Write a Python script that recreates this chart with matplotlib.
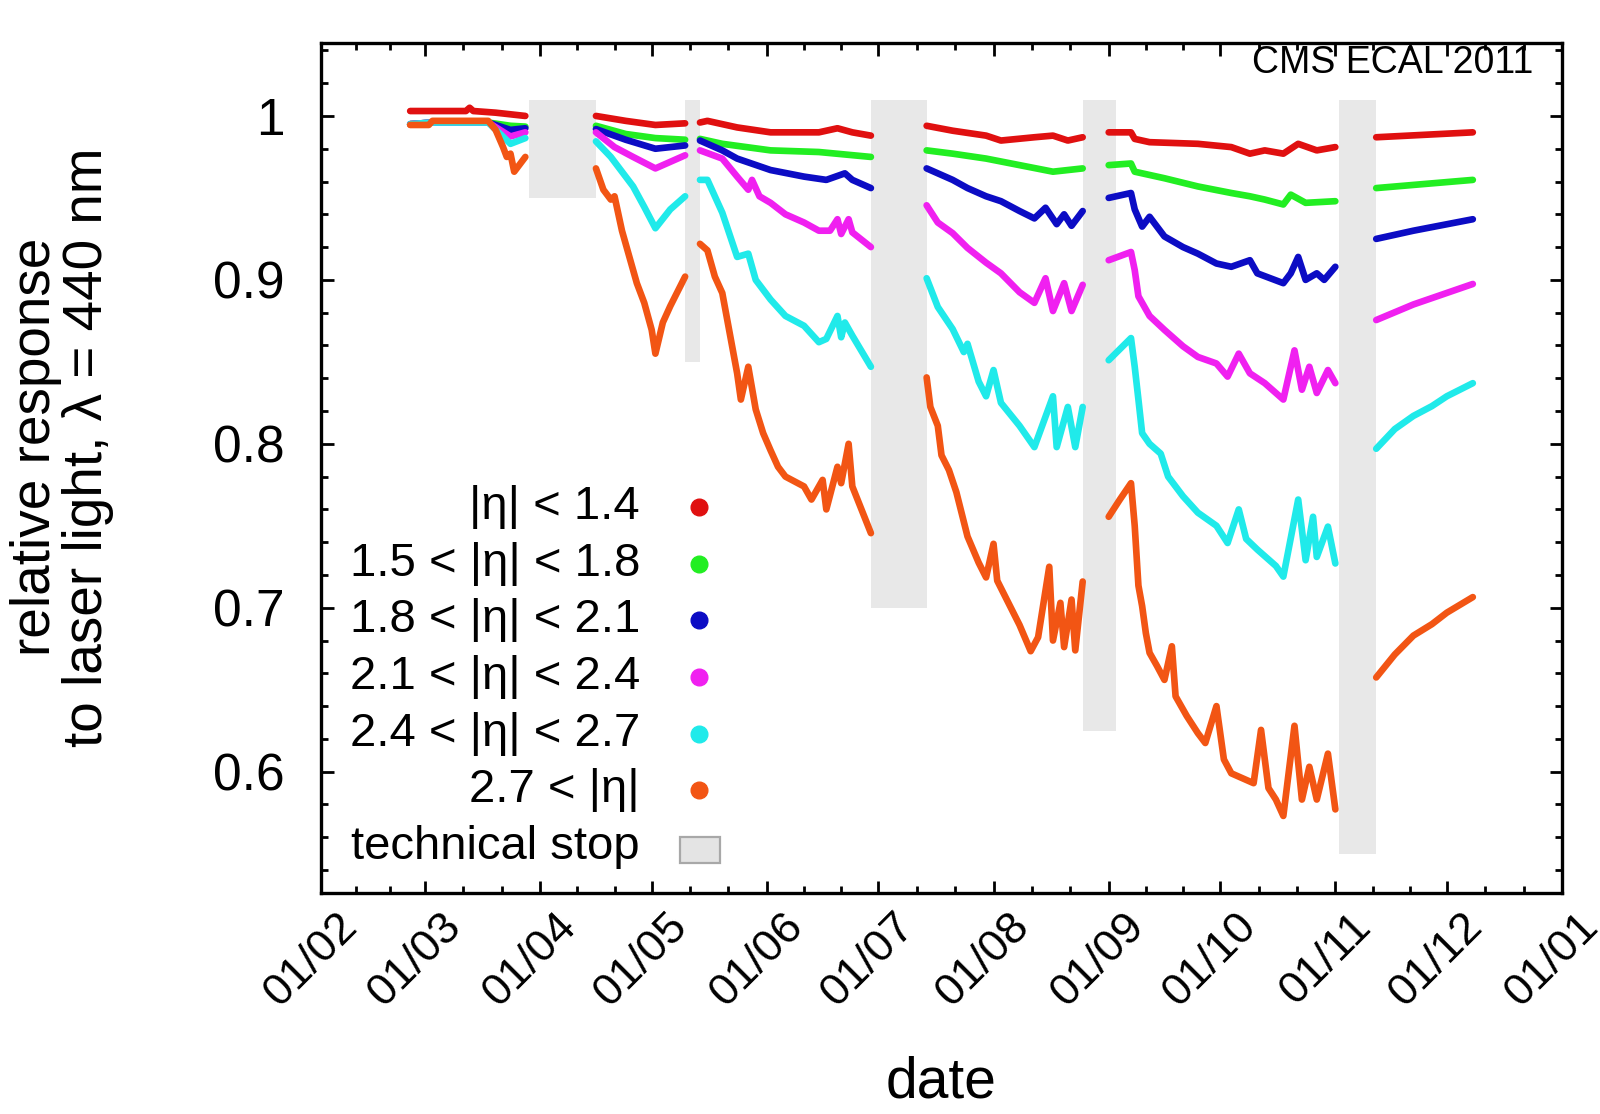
import numpy as np
import matplotlib
matplotlib.use("Agg")
import matplotlib.pyplot as plt
import matplotlib.dates as mdates
from matplotlib.patches import Rectangle
from matplotlib.ticker import FixedLocator, FuncFormatter, MultipleLocator
from matplotlib.transforms import ScaledTranslation

plt.rcParams['font.family'] = ['Liberation Sans', 'DejaVu Sans']

# ---------------- data ----------------
labels = ["|\u03b7| < 1.4", "1.5 < |\u03b7| < 1.8", "1.8 < |\u03b7| < 2.1",
          "2.1 < |\u03b7| < 2.4", "2.4 < |\u03b7| < 2.7", "2.7 < |\u03b7|"]
colors = ["#e01010", "#22ee22", "#0c0cc4", "#f020f0", "#20eaea", "#f25514"]

red_dates = ["02-25", "03-05", "03-12", "03-13", "03-14", "03-20", "03-28",
             "04-16", "04-24", "05-02", "05-10",
             "05-14", "05-16", "05-20", "05-24", "06-02", "06-15", "06-20", "06-24", "06-29",
             "07-14", "07-21", "07-30", "08-03", "08-12", "08-17", "08-21", "08-25",
             "09-01", "09-07", "09-08", "09-12", "09-25", "10-04", "10-09", "10-13", "10-18",
             "10-22", "10-27", "11-01",
             "11-12", "12-08"]
red_vals = [1.003, 1.003, 1.003, 1.005, 1.003, 1.002, 1.000,
            1.000, 0.997, 0.9945, 0.9955,
            0.996, 0.997, 0.995, 0.993, 0.990, 0.990, 0.9925, 0.990, 0.988,
            0.994, 0.991, 0.988, 0.985, 0.987, 0.988, 0.985, 0.987,
            0.990, 0.990, 0.986, 0.984, 0.983, 0.981, 0.977, 0.979, 0.977,
            0.983, 0.979, 0.981,
            0.987, 0.990]

green_dates = ["02-25", "03-03", "03-18", "03-24", "03-28",
               "04-16", "04-24", "05-02", "05-10",
               "05-14", "05-20", "06-02", "06-15", "06-29",
               "07-14", "07-21", "07-30", "08-08", "08-17", "08-21", "08-25",
               "09-01", "09-07", "09-08", "09-16", "09-25", "10-04", "10-09", "10-13",
               "10-18", "10-20", "10-24", "11-01",
               "11-12", "12-08"]
green_vals = [0.995, 0.996, 0.996, 0.994, 0.9935,
              0.994, 0.989, 0.9865, 0.9855,
              0.986, 0.983, 0.979, 0.978, 0.975,
              0.979, 0.977, 0.974, 0.970, 0.966, 0.967, 0.968,
              0.970, 0.971, 0.966, 0.962, 0.957, 0.953, 0.951, 0.949,
              0.946, 0.952, 0.947, 0.948,
              0.956, 0.961]

blue_dates = ["02-25", "03-03", "03-18", "03-24", "03-28",
              "04-16", "04-24", "05-02", "05-10",
              "05-14", "05-20", "05-24", "06-02", "06-11", "06-17", "06-22", "06-24", "06-29",
              "07-14", "07-21", "07-25", "07-30", "08-03", "08-08", "08-12", "08-15",
              "08-18", "08-20", "08-22", "08-25",
              "09-01", "09-07", "09-08", "09-10", "09-12", "09-16", "09-21", "09-25",
              "09-30", "10-04", "10-09", "10-11", "10-18", "10-20", "10-22", "10-24",
              "10-27", "10-29", "11-01",
              "11-12", "11-22", "12-08"]
blue_vals = [0.995, 0.996, 0.996, 0.9915, 0.9925,
             0.992, 0.9855, 0.980, 0.982,
             0.985, 0.979, 0.974, 0.967, 0.963, 0.961, 0.965, 0.961, 0.956,
             0.968, 0.961, 0.956, 0.951, 0.948, 0.942, 0.9375, 0.944,
             0.934, 0.940, 0.933, 0.942,
             0.950, 0.953, 0.943, 0.9325, 0.9385, 0.9265, 0.920, 0.916,
             0.910, 0.908, 0.912, 0.904, 0.898, 0.904, 0.914, 0.900,
             0.904, 0.900, 0.908,
             0.925, 0.930, 0.937]

magenta_dates = ["02-25", "03-03", "03-18", "03-24", "03-28",
                 "04-16", "04-21", "04-26", "05-02", "05-10",
                 "05-14", "05-20", "05-24", "05-27", "05-28", "05-30", "06-02", "06-06",
                 "06-11", "06-15", "06-18", "06-20", "06-21", "06-23", "06-24", "06-29",
                 "07-14", "07-17", "07-21", "07-25", "07-30", "08-03", "08-08", "08-12",
                 "08-15", "08-17", "08-20", "08-22", "08-25",
                 "09-01", "09-07", "09-08", "09-09", "09-12", "09-16", "09-21", "09-25",
                 "09-30", "10-03", "10-06", "10-09", "10-13", "10-18", "10-21", "10-23",
                 "10-25", "10-27", "10-30", "11-01",
                 "11-12", "11-22", "12-08"]
magenta_vals = [0.995, 0.996, 0.996, 0.9875, 0.990,
                0.990, 0.981, 0.975, 0.968, 0.976,
                0.979, 0.974, 0.963, 0.955, 0.961, 0.951, 0.947, 0.940,
                0.935, 0.930, 0.930, 0.937, 0.928, 0.937, 0.929, 0.920,
                0.9455, 0.935, 0.9285, 0.9195, 0.9105, 0.904, 0.8925, 0.886,
                0.901, 0.881, 0.898, 0.881, 0.897,
                0.912, 0.917, 0.906, 0.890, 0.878, 0.8695, 0.8595, 0.853,
                0.849, 0.841, 0.855, 0.843, 0.837, 0.827, 0.857, 0.833,
                0.847, 0.831, 0.845, 0.837,
                0.8755, 0.885, 0.8975]

cyan_dates = ["02-25", "03-03", "03-18", "03-24", "03-28",
              "04-16", "04-20", "04-26", "04-29", "05-02", "05-06", "05-10",
              "05-14", "05-16", "05-20", "05-24", "05-27", "05-29", "06-02", "06-06",
              "06-11", "06-15", "06-17", "06-20", "06-21", "06-22", "06-24", "06-29",
              "07-14", "07-17", "07-21", "07-24", "07-25", "07-28", "07-30", "08-01",
              "08-03", "08-08", "08-12", "08-17", "08-18", "08-21", "08-23", "08-25",
              "09-01", "09-07", "09-08", "09-09", "09-10", "09-12", "09-15", "09-17",
              "09-21", "09-25", "09-30", "10-03", "10-06", "10-08", "10-11", "10-16",
              "10-18", "10-22", "10-24", "10-26", "10-27", "10-30", "11-01",
              "11-12", "11-17", "11-22", "11-27", "12-01", "12-08"]
cyan_vals = [0.995, 0.996, 0.996, 0.983, 0.9865,
             0.9845, 0.975, 0.957, 0.9445, 0.9315, 0.943, 0.951,
             0.961, 0.961, 0.941, 0.914, 0.916, 0.900, 0.888, 0.878,
             0.872, 0.862, 0.864, 0.878, 0.865, 0.874, 0.866, 0.847,
             0.901, 0.8835, 0.870, 0.856, 0.861, 0.838, 0.829, 0.845,
             0.825, 0.811, 0.798, 0.829, 0.798, 0.8225, 0.798, 0.8225,
             0.851, 0.8645, 0.847, 0.827, 0.8065, 0.800, 0.794, 0.780,
             0.768, 0.758, 0.750, 0.7395, 0.760, 0.742, 0.7355, 0.7255,
             0.719, 0.766, 0.729, 0.7555, 0.731, 0.7495, 0.727,
             0.797, 0.809, 0.817, 0.823, 0.829, 0.837]

orange_dates = ["02-25", "03-02", "03-03", "03-18", "03-20", "03-22", "03-23", "03-24",
                "03-25", "03-28",
                "04-16", "04-18", "04-20", "04-21", "04-23", "04-25", "04-27", "04-29",
                "05-01", "05-02", "05-04", "05-06", "05-10",
                "05-14", "05-16", "05-18", "05-20", "05-22", "05-24", "05-25", "05-27",
                "05-29", "05-31", "06-02", "06-04", "06-06", "06-11", "06-13", "06-16",
                "06-17", "06-20", "06-21", "06-23", "06-24", "06-29",
                "07-14", "07-15", "07-17", "07-18", "07-20", "07-22", "07-23", "07-25",
                "07-28", "07-30", "08-01", "08-02", "08-05", "08-08", "08-11", "08-13",
                "08-16", "08-17", "08-19", "08-20", "08-22", "08-23", "08-25",
                "09-01", "09-04", "09-07", "09-08", "09-09", "09-10", "09-11", "09-12",
                "09-14", "09-16", "09-18", "09-19", "09-22", "09-25", "09-27", "09-30",
                "10-02", "10-04", "10-10", "10-12", "10-14", "10-16", "10-18", "10-21",
                "10-23", "10-25", "10-27", "10-30", "11-01",
                "11-12", "11-17", "11-22", "11-27", "12-01", "12-08"]
orange_vals = [0.9945, 0.9945, 0.997, 0.997, 0.9915, 0.981, 0.975, 0.977,
               0.966, 0.975,
               0.968, 0.955, 0.949, 0.951, 0.930, 0.914, 0.898, 0.886,
               0.8695, 0.855, 0.874, 0.884, 0.902,
               0.922, 0.918, 0.902, 0.892, 0.8675, 0.843, 0.827, 0.847,
               0.821, 0.8065, 0.796, 0.786, 0.780, 0.774, 0.766, 0.778,
               0.760, 0.786, 0.776, 0.800, 0.774, 0.7455,
               0.8405, 0.8225, 0.811, 0.793, 0.784, 0.7705, 0.7615, 0.7435,
               0.7275, 0.7185, 0.739, 0.7165, 0.703, 0.6895, 0.6735, 0.682,
               0.725, 0.680, 0.703, 0.676, 0.705, 0.674, 0.716,
               0.7555, 0.766, 0.776, 0.750, 0.7135, 0.701, 0.6845, 0.6725,
               0.6645, 0.656, 0.6765, 0.646, 0.634, 0.6235, 0.6175, 0.640,
               0.6075, 0.599, 0.593, 0.6255, 0.590, 0.583, 0.573, 0.628,
               0.583, 0.603, 0.583, 0.611, 0.577,
               0.6575, 0.6715, 0.683, 0.690, 0.697, 0.7065]

# technical stops
stop_start = ["2011-03-29", "2011-05-10", "2011-06-29", "2011-08-25", "2011-11-02"]
stop_end = ["2011-04-16", "2011-05-14", "2011-07-14", "2011-09-03", "2011-11-12"]
stop_low = [0.95, 0.85, 0.70, 0.625, 0.55]
stop_high = [1.01, 1.01, 1.01, 1.01, 1.01]

xticks = ["2011-02-01", "2011-03-01", "2011-04-01", "2011-05-01", "2011-06-01",
          "2011-07-01", "2011-08-01", "2011-09-01", "2011-10-01", "2011-11-01",
          "2011-12-01", "2012-01-01"]
xtick_labels = ["01/02", "01/03", "01/04", "01/05", "01/06", "01/07", "01/08",
                "01/09", "01/10", "01/11", "01/12", "01/01"]
yticks = [0.6, 0.7, 0.8, 0.9, 1.0]

series = [(red_dates, red_vals), (green_dates, green_vals), (blue_dates, blue_vals),
          (magenta_dates, magenta_vals), (cyan_dates, cyan_vals),
          (orange_dates, orange_vals)]

# ---------------- figure ----------------
def d2n(s):
    return mdates.date2num(np.datetime64(s))

fig = plt.figure(figsize=(16, 11.14), dpi=100)
ax = fig.add_axes([321 / 1600, 1 - 893 / 1114, 1241 / 1600, 850 / 1114])

stop_mid = []
for s0, s1, lo, hi in zip(stop_start, stop_end, stop_low, stop_high):
    x0, x1 = d2n(s0), d2n(s1)
    stop_mid.append(0.5 * (x0 + x1))
    ax.add_patch(Rectangle((x0, lo), x1 - x0, hi - lo, facecolor="#e8e8e8",
                           edgecolor="none", zorder=1))

for (dates, vals), col in zip(series, colors):
    x = np.array([d2n("2011-" + d) for d in dates])
    y = np.array(vals, dtype=float)
    # break the line at technical stops
    cuts = [0]
    for i in range(len(x) - 1):
        if any(x[i] < m < x[i + 1] for m in stop_mid):
            cuts.append(i + 1)
    cuts.append(len(x))
    for a, b in zip(cuts[:-1], cuts[1:]):
        ax.plot(x[a:b], y[a:b], color=col, lw=4.8, solid_joinstyle="round",
                solid_capstyle="round", zorder=3)

ax.set_xlim(d2n("2011-02-01"), d2n("2012-01-01"))
ax.set_ylim(0.526, 1.0445)

ax.xaxis.set_major_locator(FixedLocator([d2n(t) for t in xticks]))
ax.set_xticklabels(xtick_labels)
minor = []
for t0, t1 in zip(xticks[:-1], xticks[1:]):
    a, b = d2n(t0), d2n(t1)
    minor += [a + (b - a) / 3, a + 2 * (b - a) / 3]
ax.xaxis.set_minor_locator(FixedLocator(minor))

ax.set_yticks(yticks)
ax.yaxis.set_major_formatter(FuncFormatter(lambda v, p: f"{v:g}"))
ax.yaxis.set_minor_locator(MultipleLocator(0.02))

for sp in ax.spines.values():
    sp.set_linewidth(2.4)

ax.tick_params(which="both", direction="in", top=True, right=True, width=2.0)
ax.tick_params(which="major", length=9)
ax.tick_params(which="minor", length=5)
ax.tick_params(axis="y", which="major", labelsize=37, pad=26)
ax.tick_params(axis="x", which="major", labelsize=32.5, pad=9)

for lab in ax.get_xticklabels():
    lab.set_rotation(45)
    lab.set_ha("right")
    lab.set_va("top")
    lab.set_rotation_mode("anchor")
    lab.set_transform(lab.get_transform() + ScaledTranslation(0.15, 0, fig.dpi_scale_trans))

fig.text(941 / 1600, 16 / 1114, "date", fontsize=41, ha="center", va="baseline")
fig.text(62 / 1600, 1 - 447 / 1114, "relative response\nto laser light, \u03bb = 440 nm",
         fontsize=39.5, rotation=90, ha="center", va="center", multialignment="center",
         linespacing=1.0)

ax.text(0.9766, 0.9647, "CMS ECAL 2011", transform=ax.transAxes, fontsize=27,
        ha="right", va="baseline")

# legend (manual, gnuplot style)
row_y = [0.4541 - i * 0.0667 for i in range(7)]
for i, (lab, col) in enumerate(zip(labels, colors)):
    ax.text(0.257, row_y[i], lab, transform=ax.transAxes, fontsize=34,
            ha="right", va="center")
    ax.plot([0.3046], [row_y[i]], "o", color=col, ms=12, transform=ax.transAxes,
            clip_on=False, zorder=5)
ax.text(0.257, row_y[6], "technical stop", transform=ax.transAxes, fontsize=34,
        ha="right", va="center")
ax.add_patch(Rectangle((0.2893, 0.0353), 0.0322, 0.0306, transform=ax.transAxes,
                       facecolor="#e4e4e4", edgecolor="#a8a8a8", lw=1.6, zorder=5))

fig.savefig("out.png", dpi=100)
